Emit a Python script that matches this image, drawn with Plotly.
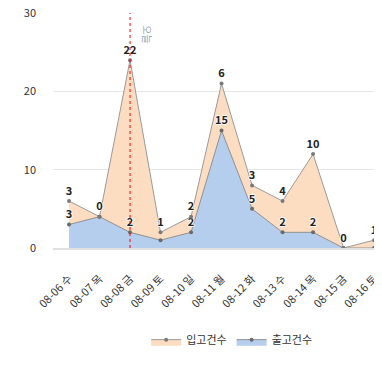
import plotly.graph_objects as go

categories = ["08-06 수", "08-07 목", "08-08 금", "08-09 토", "08-10 일", "08-11 월",
              "08-12 화", "08-13 수", "08-14 목", "08-15 금", "08-16 토", "08-17 일"]
out_counts = [3, 4, 2, 1, 2, 15, 5, 2, 2, 0, 0, 0]      # 출고건수
in_counts = [3, 0, 22, 1, 2, 6, 3, 4, 10, 0, 1, 2]      # 입고건수
out_label_shown = [True, False, True, False, True, True, True, True, True, False, False, False]
today = "08-08 금"
y_ticks = [0, 10, 20, 30]

FONT = "Noto Sans CJK KR, Noto Sans, sans-serif"
halo = "1px 0 0 #fff, -1px 0 0 #fff, 0 1px 0 #fff, 0 -1px 0 #fff"

out_text = [str(v) if s else "" for v, s in zip(out_counts, out_label_shown)]
in_text = [str(v) for v in in_counts]

fig = go.Figure()
fig.add_trace(go.Scatter(
    x=categories, y=out_counts, name="출고건수", stackgroup="one",
    mode="lines+markers+text", text=out_text, textposition="top center",
    textfont=dict(size=11, color="#222", family=FONT, weight="bold", shadow=halo),
    line=dict(color="#8f8f8f", width=1),
    marker=dict(size=4, color="#6a6a6a"),
    fillcolor="rgba(181,206,238,1)", cliponaxis=False,
))
fig.add_trace(go.Scatter(
    x=categories, y=in_counts, name="입고건수", stackgroup="one",
    mode="lines+markers+text", text=in_text, textposition="top center",
    textfont=dict(size=11, color="#222", family=FONT, weight="bold", shadow=halo),
    line=dict(color="#9a9a9a", width=1),
    marker=dict(size=4, color="#7a7a7a"),
    fillcolor="rgba(253,221,193,1)", cliponaxis=False,
))

fig.add_shape(type="line", x0=today, x1=today, xref="x", yref="paper", y0=0, y1=1,
              line=dict(color="red", width=1, dash="dot"), layer="above")
fig.add_annotation(x=today, y=29.6, xref="x", yref="y", text="오늘", textangle=90,
                   showarrow=False, xshift=18, yshift=-7, yanchor="top",
                   font=dict(size=10, color="#9aa3b0", family=FONT))

fig.update_layout(
    width=374, height=383,
    margin=dict(l=45, r=0, t=4.5, b=143, autoexpand=False),
    paper_bgcolor="white", plot_bgcolor="white",
    font=dict(family=FONT, size=11, color="#333"),
    showlegend=True,
    legend=dict(orientation="h", x=0.543, xanchor="center", y=-0.39, yanchor="middle",
                traceorder="reversed", font=dict(size=11, color="#333"),
                itemwidth=30),
    xaxis=dict(range=[-0.525, 10.26], tickangle=-45, showgrid=False, automargin=False,
               showline=True, linecolor="#e0e0e0", linewidth=2,
               ticks="", ticklabelstandoff=18, tickfont=dict(size=11, color="#333")),
    yaxis=dict(range=[0, 30.02], tickvals=y_ticks, showgrid=True, gridcolor="#e6e6e6",
               gridwidth=1, zeroline=False, ticks="", ticklabelstandoff=16,
               ticklabeloverflow="allow", automargin=False,
               tickfont=dict(size=11, color="#333")),
)

fig.write_html("out.html")
